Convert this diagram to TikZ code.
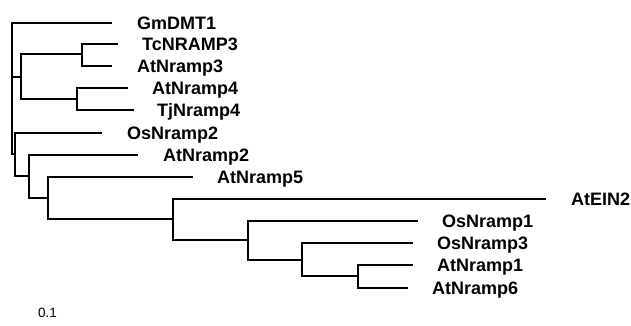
\documentclass[tikz,border=0pt]{standalone}
\usepackage{fontspec}
\setmainfont{Liberation Sans}
\begin{document}
\begin{tikzpicture}[x=1pt,y=-1pt,
  br/.style={line width=2.8pt},
  lab/.style={anchor=base west, inner sep=0pt, font=\fontsize{18}{20}\selectfont\bfseries},
  scalelab/.style={anchor=base west, inner sep=0pt, font=\fontsize{13.5}{15}\selectfont}]
\useasboundingbox (0,0) rectangle (631,325);
% internal nodes
\coordinate (R) at (12,77);
\coordinate (A) at (21,77);
\coordinate (A1) at (82,54);
\coordinate (A2) at (77,99);
\coordinate (B) at (15,154);
\coordinate (C) at (29,176);
\coordinate (D) at (48,198);
\coordinate (E) at (173,219);
\coordinate (F) at (248,240);
\coordinate (G) at (302,260);
\coordinate (H) at (358,276);
% leaf tips
\coordinate (tGm) at (112,23);
\coordinate (tTc) at (118,44);
\coordinate (tAt3) at (112,66);
\coordinate (tAt4) at (128,88);
\coordinate (tTj4) at (134,110);
\coordinate (tOs2) at (102,133);
\coordinate (tAt2) at (138,155);
\coordinate (tAt5) at (193,177);
\coordinate (tEIN) at (546,199);
\coordinate (tOs1) at (418,221);
\coordinate (tOs3) at (413,243);
\coordinate (tAt1) at (413,265);
\coordinate (tAt6) at (408,288);
% branches
\draw[br] (R) |- (tGm);
\draw[br] (R) |- (A);
\draw[br] (R) |- (B);
\draw[br] (A) |- (A1);
\draw[br] (A) |- (A2);
\draw[br] (A1) |- (tTc);
\draw[br] (A1) |- (tAt3);
\draw[br] (A2) |- (tAt4);
\draw[br] (A2) |- (tTj4);
\draw[br] (B) |- (tOs2);
\draw[br] (B) |- (C);
\draw[br] (C) |- (tAt2);
\draw[br] (C) |- (D);
\draw[br] (D) |- (tAt5);
\draw[br] (D) |- (E);
\draw[br] (E) |- (tEIN);
\draw[br] (E) |- (F);
\draw[br] (F) |- (tOs1);
\draw[br] (F) |- (G);
\draw[br] (G) |- (tOs3);
\draw[br] (G) |- (H);
\draw[br] (H) |- (tAt1);
\draw[br] (H) |- (tAt6);
% labels
\node[lab] (nGm) at (137,29.5) {GmDMT1};
\node[lab] (nTc) at (142,50.5) {TcNRAMP3};
\node[lab] (nAt3) at (137,72.5) {AtNramp3};
\node[lab] (nAt4) at (152,94.5) {AtNramp4};
\node[lab] (nTj4) at (157,116.5) {TjNramp4};
\node[lab] (nOs2) at (127,139.5) {OsNramp2};
\node[lab] (nAt2) at (163,161.5) {AtNramp2};
\node[lab] (nAt5) at (217,183.5) {AtNramp5};
\node[lab] (nEIN) at (571,205.5) {AtEIN2};
\node[lab] (nOs1) at (442,227.5) {OsNramp1};
\node[lab] (nOs3) at (437,249.5) {OsNramp3};
\node[lab] (nAt1) at (437,271.5) {AtNramp1};
\node[lab] (nAt6) at (432,294.5) {AtNramp6};
\node[scalelab] (scale) at (38,317) {0.1};
\end{tikzpicture}
\end{document}
